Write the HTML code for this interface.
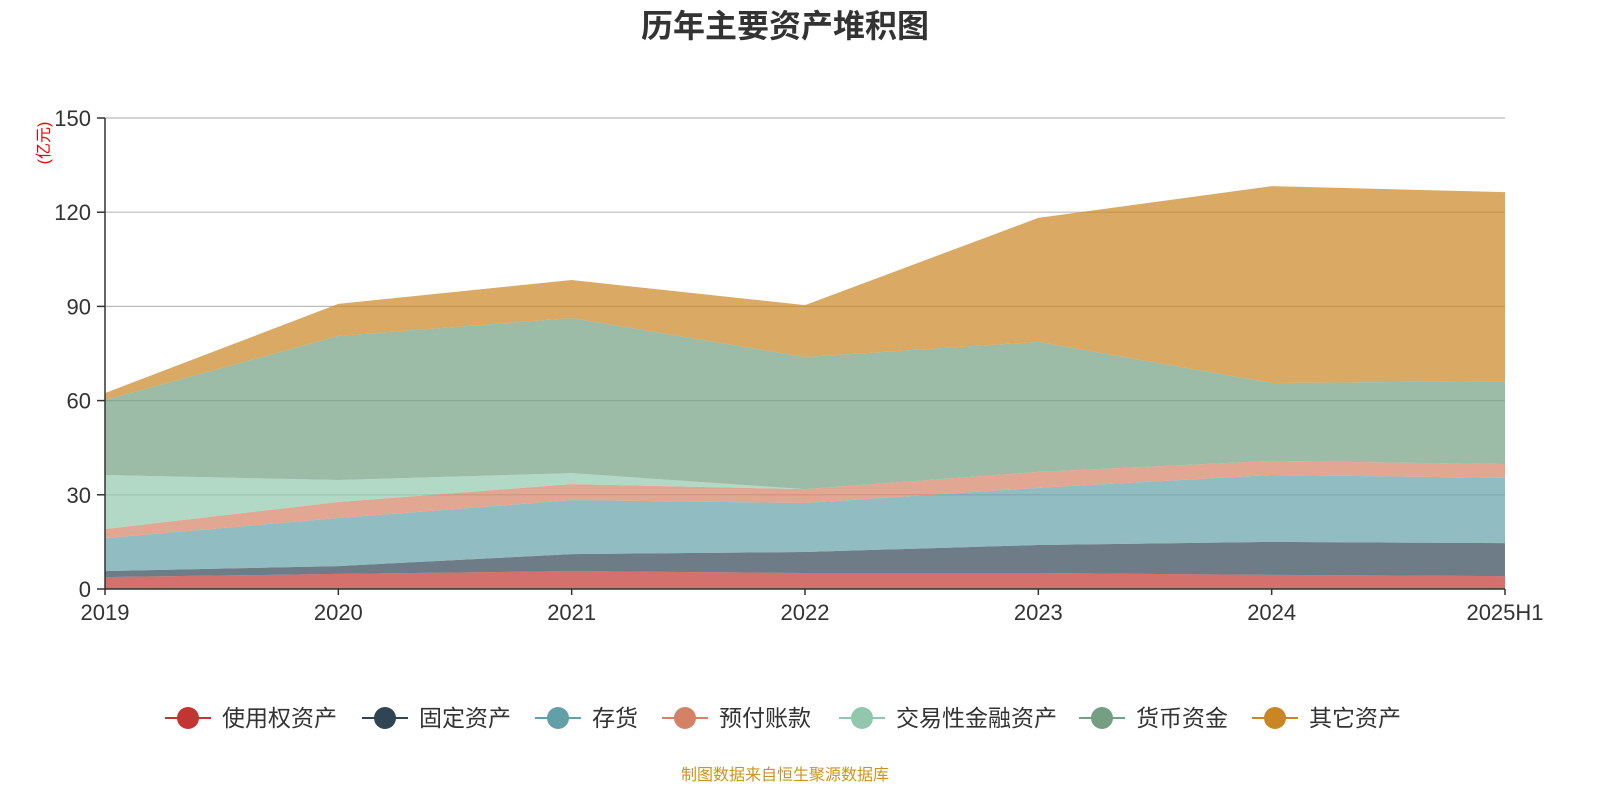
<!DOCTYPE html>
<html><head><meta charset="utf-8"><style>
body{margin:0;background:#fff;}
svg{display:block;font-family:"Liberation Sans","Noto Sans CJK SC",sans-serif;}
</style></head><body>
<svg id="c" width="1600" height="800">
<text x="785" y="37" text-anchor="middle" font-size="32" font-weight="bold" fill="#333">历年主要资产堆积图</text>
<text transform="translate(49,143) rotate(-90)" text-anchor="middle" font-size="16" fill="#e00">(亿元)</text>
<g id="grid"></g><g id="areas"></g><g id="axes"></g><g id="legend"></g>
<text x="785" y="780" text-anchor="middle" font-size="16" fill="#c8961e">制图数据来自恒生聚源数据库</text>
</svg>
<script>
const categories=["2019","2020","2021","2022","2023","2024","2025H1"];
const seriesNames=["使用权资产","固定资产","存货","预付账款","交易性金融资产","货币资金","其它资产"];
const useRight=[3.8,4.8,5.7,5.1,5.1,4.5,4.1];
const fixedAssets=[1.9,2.5,5.4,6.7,8.9,10.5,10.5];
const inventory=[10.5,15.3,17.2,15.6,18.2,21.3,20.8];
const prepay=[2.9,5.1,5.1,4.4,5.1,4.5,4.4];
const tradingFin=[17.2,7.0,3.5,0,0,0,0];
const cash=[23.9,45.9,49.4,42.1,41.4,24.8,26.4];
const others=[2.2,10.2,12.1,16.5,39.5,62.7,60.2];
const yTicks=[0,30,60,90,120,150];
const series=[useRight,fixedAssets,inventory,prepay,tradingFin,cash,others];
const colors=["#c23531","#2f4554","#61a0a8","#d48265","#91c7ae","#749f83","#ca8622"];
const NS="http://www.w3.org/2000/svg";
const x0=105,x1=1505,y0=589,yTop=118;
const xs=i=>x0+i*(x1-x0)/(categories.length-1);
const ys=v=>y0-(v/150)*(y0-yTop);
function mk(t,a,p){const e=document.createElementNS(NS,t);for(const k in a)e.setAttribute(k,a[k]);p.appendChild(e);return e;}
const grid=document.getElementById('grid'),axes=document.getElementById('axes'),areas=document.getElementById('areas'),legend=document.getElementById('legend');
yTicks.forEach(t=>{
 if(t>0){const l=mk('line',{x1:x0,x2:x1,y1:ys(t),y2:ys(t),stroke:'#bbb','stroke-width':1.2},grid);
 }
 const tk=mk('line',{x1:x0-8,x2:x0,y1:ys(t),y2:ys(t),stroke:'#333','stroke-width':1.5},axes);
 
 const tx=mk('text',{x:x0-14,y:ys(t)+8,'text-anchor':'end','font-size':22,fill:'#333'},axes);tx.textContent=t;
 
});
let base=categories.map(()=>0);
series.forEach((s,k)=>{
 const top=base.map((b,i)=>b+s[i]);
 let d='M'+top.map((v,i)=>xs(i)+','+ys(v)).join('L');
 for(let i=categories.length-1;i>=0;i--)d+='L'+xs(i)+','+ys(base[i]);
 const p=mk('path',{d:d+'Z',fill:colors[k],'fill-opacity':0.7,stroke:'none'},areas);
 
 base=top;
});
const ax=mk('line',{x1:x0,x2:x0,y1:yTop,y2:y0,stroke:'#333','stroke-width':1.5},axes);

const bx=mk('line',{x1:x0,x2:x1,y1:y0,y2:y0,stroke:'#333','stroke-width':1.5},axes);

categories.forEach((c,i)=>{
 const tk=mk('line',{x1:xs(i),x2:xs(i),y1:y0,y2:y0+6,stroke:'#333','stroke-width':1.5},axes);
 
 const tx=mk('text',{x:xs(i),y:y0+31,'text-anchor':'middle','font-size':22,fill:'#333'},axes);tx.textContent=c;
 
});
const lx=[165,362,535,662,839,1079,1252];
seriesNames.forEach((n,k)=>{
 const g=mk('g',{},legend);
 
 mk('line',{x1:lx[k],x2:lx[k]+46,y1:718,y2:718,stroke:colors[k],'stroke-width':2},g);
 mk('circle',{cx:lx[k]+23,cy:718,r:11,fill:colors[k]},g);
 const t=mk('text',{x:lx[k]+57,y:726,'font-size':23,fill:'#333'},g);t.textContent=n;
});
</script>
</body></html>
